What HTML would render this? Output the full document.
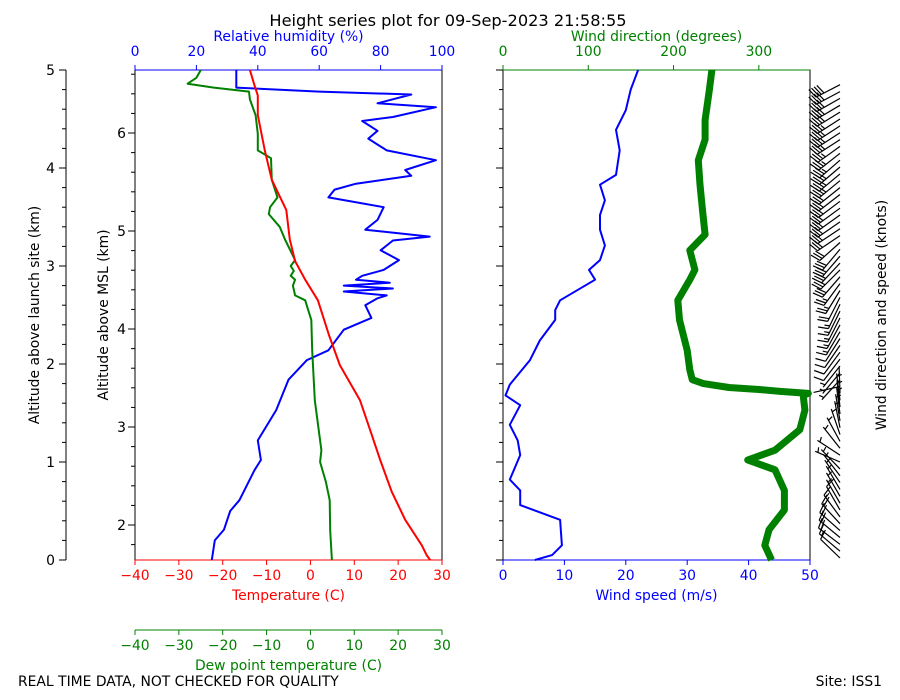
<!DOCTYPE html>
<html><head><meta charset="utf-8"><style>
body{margin:0;background:#fff}
svg{display:block;font-family:"DejaVu Sans","Liberation Sans",sans-serif}
</style></head><body>
<svg id="c" width="900" height="700" viewBox="0 0 900 700">
<text x="448" y="26" font-size="16.2" text-anchor="middle">Height series plot for 09-Sep-2023 21:58:55</text>
<text x="18" y="686" font-size="13.9">REAL TIME DATA, NOT CHECKED FOR QUALITY</text>
<text x="882" y="686" font-size="13.9" text-anchor="end">Site: ISS1</text>
<g id="g"></g>
</svg>
<script>
// ---- data (altitude above launch site, km) ----
const tempAlt=[0,0.05,0.15,0.41,0.7,1.02,1.3,1.63,1.99,2.3,2.65,2.86,3.05,3.27,3.57,3.88,4.18,4.54,4.74,4.85,5.0];
const tempVal=[27.3,26.5,25.4,21.6,18.5,15.9,13.8,11.3,6.7,4.2,1.7,-1.2,-3.5,-4.7,-5.5,-8.8,-10.4,-12,-12,-12.8,-13.8];
const dewAlt=[0,0.3,0.61,0.8,1.0,1.12,1.63,2.14,2.45,2.65,2.7,2.8,2.86,2.9,2.95,3.0,3.06,3.27,3.4,3.53,3.6,3.7,3.88,4.1,4.18,4.35,4.54,4.7,4.78,4.82,4.86,4.92,5.0];
const dewVal=[4.9,4.5,4.4,3.5,2.2,2.5,1,0.4,0.2,-1.2,-3.5,-4,-3.5,-4.5,-3.8,-4.5,-3.5,-5.8,-7,-9.5,-9.2,-7.5,-8.8,-9,-12,-12,-12.5,-13.8,-14,-22,-28,-26,-25];
const rhAlt=[0,0.2,0.31,0.5,0.61,0.92,1.02,1.22,1.53,1.84,2.04,2.14,2.35,2.47,2.6,2.67,2.7,2.74,2.77,2.8,2.83,2.86,2.9,2.96,3.06,3.16,3.26,3.3,3.37,3.47,3.6,3.7,3.78,3.84,3.92,3.98,4.08,4.18,4.3,4.38,4.48,4.52,4.62,4.66,4.75,4.78,4.82,5.0];
const rhVal=[25,26,29,31,34,39,41,40,46,50,56,63,68,77,75,79,82,68,84,68,83,72,74,81,86,80,84,96,75,79,81,63,65,72,90,88,98,82,76,79,74,84,98,79,90,60,33,33];
const wsAlt=[0,0.05,0.15,0.41,0.56,0.71,0.82,1.07,1.22,1.38,1.58,1.68,1.79,2.04,2.24,2.45,2.55,2.65,2.86,2.96,3.06,3.21,3.37,3.52,3.67,3.83,3.93,4.18,4.39,4.59,4.8,5.0];
const wsVal=[5.2,8,9.6,9.3,2.8,2.8,1.1,2.8,2.4,1.1,2.8,0.4,1.1,4.4,6,8.5,8.5,9.3,15,14,15.8,16.6,15.8,15.8,16.6,15.8,18.4,19,18.4,20,20.8,22];
const wdAlt=[0,0.15,0.31,0.51,0.71,0.92,1.02,1.12,1.33,1.53,1.68,1.7,1.72,1.74,1.76,1.8,1.84,1.94,2.14,2.45,2.65,2.86,2.96,3.16,3.32,3.57,3.83,4.08,4.29,4.49,4.8,5.0];
const wdVal=[315,307,312,330,330,319,287,319,348,354,352,358,325,300,265,235,222,219,216,207,205,219,225,219,237,234,231,229,237,237,242,245];
const tempTicks=[-40,-30,-20,-10,0,10,20,30];
const rhTicks=[0,20,40,60,80,100];
const wsTicks=[0,10,20,30,40,50];
const wdTicks=[0,100,200,300];
const altTicks=[0,1,2,3,4,5];
const mslTicks=[2,3,4,5,6];
// ---- scales ----
const TOP=70,BOT=560,L1=135,R1=442,L2=503,R2=810,OFF=1.643,FS=13.9;
const yK=k=>BOT-k*(BOT-TOP)/5;
const xT=t=>L1+(t+40)*(R1-L1)/70;
const xRH=h=>L1+h*(R1-L1)/100;
const xWS=s=>L2+s*(R2-L2)/50;
const xWD=d=>L2+d*(R2-L2)/360;
const NS="http://www.w3.org/2000/svg";
const G=document.getElementById('g');
function mk(tag,at,par){const e=document.createElementNS(NS,tag);for(const k in at)e.setAttribute(k,at[k]);(par||G).appendChild(e);return e;}
function line(x1,y1,x2,y2,c,w){return mk('line',{x1,y1,x2,y2,stroke:c,'stroke-width':w||1});}
function txt(x,y,s,c,anchor,size,rot){const e=mk('text',{x,y,fill:c,'font-size':size||FS,'text-anchor':anchor||'middle'});if(rot)e.setAttribute('transform',`rotate(${rot} ${x} ${y})`);e.textContent=s;return e;}
function path(xs,ys,xf,c,w){let d='';xs.forEach((a,i)=>{d+=(i?'L':'M')+xf(ys[i]).toFixed(1)+' '+yK(a).toFixed(1);});return mk('path',{d,fill:'none',stroke:c,'stroke-width':w||2,'stroke-linejoin':'round'});}
let e;
e=mk('rect',{x:L1,y:TOP,width:R1-L1,height:BOT-TOP,fill:'none',stroke:'#000'});


line(L1,TOP,R1,TOP,'blue');line(L1,BOT,R1,BOT,'red');
e=mk('rect',{x:L2,y:TOP,width:R2-L2,height:BOT-TOP,fill:'none',stroke:'#000'});


line(L2,TOP,R2,TOP,'green');line(L2,BOT,R2,BOT,'blue');
line(66,TOP,66,BOT,'#000');
for(let k=0;k<=25;k++){const y=yK(k*0.2);line(k%5?62:59,y,66,y,'#000');}
altTicks.forEach(k=>{e=txt(55,yK(k)+5,String(k),'#000','end');});
e=txt(39,315,'Altitude above launch site (km)','#000','middle',FS,-90);

for(let m=1.8;m<=6.7;m+=0.2){const k=m-OFF;if(k<0||k>5)continue;const major=Math.abs(m-Math.round(m))<0.01;line(major?L1-7:L1-4,yK(k),L1,yK(k),'#000');}
mslTicks.forEach(m=>{e=txt(126,yK(m-OFF)+5,String(m),'#000','end');});
e=txt(108,315,'Altitude above MSL (km)','#000','middle',FS,-90);

for(let k=0;k<=25;k++){const y=yK(k*0.2);line(k%5?L2-4:L2-7,y,L2,y,'#000');}
tempTicks.forEach(t=>{line(xT(t),BOT,xT(t),BOT+5,'red');e=txt(xT(t),BOT+20,String(t).replace('-','\u2212'),'red');});
e=txt((L1+R1)/2,600,'Temperature (C)','red');
line(L1,630,R1,630,'green');
tempTicks.forEach(t=>{line(xT(t),630,xT(t),635,'green');e=txt(xT(t),650,String(t).replace('-','\u2212'),'green');});
e=txt((L1+R1)/2,670,'Dew point temperature (C)','green');
rhTicks.forEach(h=>{line(xRH(h),TOP-5,xRH(h),TOP,'blue');e=txt(xRH(h),56,String(h),'blue');});
e=txt((L1+R1)/2,41,'Relative humidity (%)','blue');
wsTicks.forEach(s=>{line(xWS(s),BOT,xWS(s),BOT+5,'blue');e=txt(xWS(s),BOT+20,String(s),'blue');});
e=txt((L2+R2)/2,600,'Wind speed (m/s)','blue');
wdTicks.forEach(d=>{line(xWD(d),TOP-5,xWD(d),TOP,'green');e=txt(xWD(d),56,String(d),'green');});
e=txt((L2+R2)/2,41,'Wind direction (degrees)','green');
e=txt(886,315,'Wind direction and speed (knots)','#000','middle',FS,-90);

e=path(rhAlt,rhVal,xRH,'blue',2);
e=path(dewAlt,dewVal,xT,'green',2);
e=path(tempAlt,tempVal,xT,'red',2);
e=path(wsAlt,wsVal,xWS,'blue',2);
e=path(wdAlt,wdVal,xWD,'green',7);
function interp(xs,ys,a){for(let i=1;i<xs.length;i++){if(a<=xs[i]){const f=(a-xs[i-1])/(xs[i]-xs[i-1]);return ys[i-1]+f*(ys[i]-ys[i-1]);}}return ys[ys.length-1];}
const bg=mk('g',{});


for(let a=0.02;a<=4.92;a+=0.07){
  const d=interp(wdAlt,wdVal,a)*Math.PI/180,kt=interp(wsAlt,wsVal,a)*1.944;
  const x0=840,y0=yK(a);const vx=Math.sin(d),vy=-Math.cos(d);
  const Ls=27,x1=x0+vx*Ls,y1=y0+vy*Ls;
  let p=`M${x0} ${y0.toFixed(1)}L${x1.toFixed(1)} ${y1.toFixed(1)}`;
  const px=-vy,py=vx;let r=Math.round(kt/5)*5,pos=0;
  while(r>=10){const bx=x1-vx*pos,by=y1-vy*pos;p+=`M${bx.toFixed(1)} ${by.toFixed(1)}l${(px*10+vx*3).toFixed(1)} ${(py*10+vy*3).toFixed(1)}`;pos+=3;r-=10;}
  if(r>=5){if(pos===0)pos=3;const bx=x1-vx*pos,by=y1-vy*pos;p+=`M${bx.toFixed(1)} ${by.toFixed(1)}l${(px*5+vx*1.5).toFixed(1)} ${(py*5+vy*1.5).toFixed(1)}`;}
  mk('path',{d:p,stroke:'#000','stroke-width':1.2,fill:'none'},bg);
}
</script>
</body></html>
